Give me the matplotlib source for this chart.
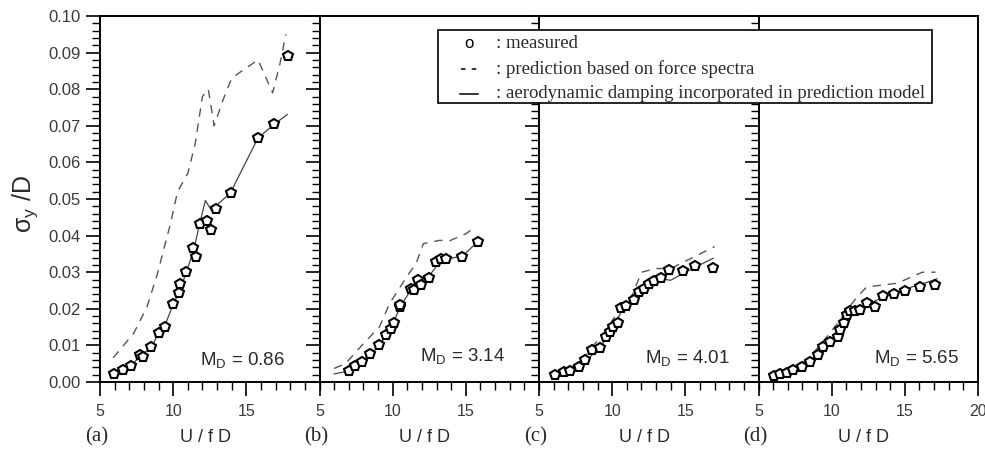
import matplotlib
matplotlib.use("Agg")
import matplotlib.pyplot as plt
from matplotlib.ticker import MultipleLocator, FixedLocator
from matplotlib.lines import Line2D
from matplotlib.patches import Rectangle

# ---- data: reduced velocity U/fD vs. normalised rms response sigma_y/D ----
panel_tags = ["(a)", "(b)", "(c)", "(d)"]
mass_damping = ["0.86", "3.14", "4.01", "5.65"]

# (a) M_D = 0.86
meas_a_x = [5.98, 6.6, 7.13, 7.75, 7.93, 8.48, 9.0, 9.42, 9.99, 10.38, 10.5, 10.91,
            11.37, 11.53, 11.83, 12.33, 12.6, 12.9, 13.93, 15.83, 16.86, 17.87]
meas_a_y = [0.0022, 0.0034, 0.0044, 0.0074, 0.0069, 0.0095, 0.0133, 0.0151, 0.0212,
            0.0244, 0.0269, 0.0301, 0.0367, 0.0342, 0.0431, 0.0440, 0.0414, 0.0474,
            0.0516, 0.0667, 0.0704, 0.0892]
force_a_x = [5.9, 7.3, 8.2, 8.9, 9.8, 10.3, 11.0, 11.5, 12.0, 12.4, 12.8, 13.4, 14.0,
             14.7, 15.8, 16.8, 17.3, 17.7]
force_a_y = [0.0066, 0.0133, 0.0204, 0.0292, 0.0430, 0.0520, 0.0570, 0.0650, 0.0780,
             0.0800, 0.0700, 0.0770, 0.0830, 0.0850, 0.0880, 0.0790, 0.0870, 0.0950]
damp_a_x = [6.0, 6.6, 7.1, 7.8, 8.5, 9.0, 9.4, 10.0, 10.4, 10.9, 11.4, 11.8, 12.2,
            12.6, 13.9, 15.8, 16.9, 17.8]
damp_a_y = [0.0022, 0.0034, 0.0044, 0.0072, 0.0095, 0.0133, 0.0151, 0.0212, 0.0244,
            0.0300, 0.0360, 0.0430, 0.0496, 0.0470, 0.0516, 0.0667, 0.0704, 0.0731]

# (b) M_D = 3.14
meas_b_x = [7.05, 7.43, 7.88, 8.45, 9.05, 9.53, 9.91, 10.09, 10.47, 10.47, 11.26,
            11.49, 11.71, 11.94, 12.5, 12.95, 13.29, 13.63, 14.75, 15.81]
meas_b_y = [0.0031, 0.0044, 0.0055, 0.0076, 0.0101, 0.0128, 0.0146, 0.0160, 0.0205,
            0.0210, 0.0255, 0.0251, 0.0280, 0.0265, 0.0283, 0.0328, 0.0335, 0.0337,
            0.0342, 0.0383]
force_b_x = [6.0, 6.8, 7.8, 9.1, 9.8, 10.3, 11.0, 11.6, 12.1, 13.2, 13.9, 15.0, 15.7]
force_b_y = [0.0037, 0.0051, 0.0096, 0.0151, 0.0215, 0.0246, 0.0290, 0.0324, 0.0378,
             0.0387, 0.0386, 0.0405, 0.0425]
damp_b_x = [6.0, 7.0, 7.9, 8.5, 9.1, 9.9, 10.5, 11.3, 11.9, 12.5, 13.3, 14.0, 14.8, 15.8]
damp_b_y = [0.0022, 0.0030, 0.0055, 0.0076, 0.0101, 0.0146, 0.0205, 0.0255, 0.0270,
            0.0290, 0.0333, 0.0338, 0.0345, 0.0383]

# (c) M_D = 4.01
meas_c_x = [6.12, 6.68, 7.09, 7.7, 8.15, 8.6, 9.16, 9.61, 9.83, 10.05, 10.39, 10.62,
            10.96, 11.52, 11.85, 12.19, 12.53, 12.86, 13.31, 13.87, 14.82, 15.67, 16.9]
meas_c_y = [0.0019, 0.0028, 0.0031, 0.0042, 0.0060, 0.0087, 0.0092, 0.0124, 0.0137,
            0.0151, 0.0160, 0.0201, 0.0207, 0.0224, 0.0246, 0.0253, 0.0269, 0.0276,
            0.0285, 0.0307, 0.0304, 0.0316, 0.0312]
force_c_x = [6.1, 7.0, 8.0, 8.6, 9.5, 10.2, 10.8, 11.4, 12.0, 13.0, 14.0, 15.0, 16.0, 17.0]
force_c_y = [0.0025, 0.0035, 0.0060, 0.0095, 0.0135, 0.0180, 0.0210, 0.0240, 0.0300,
             0.0310, 0.0310, 0.0330, 0.0350, 0.0370]
damp_c_x = [6.1, 7.1, 8.2, 9.2, 10.0, 10.6, 11.5, 12.5, 13.3, 14.0, 15.0, 16.0, 16.9]
damp_c_y = [0.0019, 0.0030, 0.0058, 0.0095, 0.0145, 0.0190, 0.0222, 0.0262, 0.0282,
            0.0278, 0.0300, 0.0320, 0.0338]

# (d) M_D = 5.65
meas_d_x = [6.03, 6.48, 6.94, 7.39, 7.97, 8.53, 9.1, 9.44, 9.9, 10.4, 10.54, 10.81,
            11.04, 11.27, 11.61, 11.95, 12.41, 12.98, 13.54, 14.23, 15.03, 16.05, 17.08]
meas_d_y = [0.0016, 0.0022, 0.0025, 0.0033, 0.0042, 0.0055, 0.0074, 0.0096, 0.0110,
            0.0124, 0.0142, 0.0162, 0.0183, 0.0194, 0.0194, 0.0198, 0.0216, 0.0204,
            0.0235, 0.0240, 0.0249, 0.0260, 0.0266]
force_d_x = [6.0, 7.5, 8.5, 9.5, 10.4, 11.2, 11.8, 12.4, 13.5, 14.5, 15.5, 16.2, 17.1]
force_d_y = [0.0022, 0.0038, 0.0068, 0.0115, 0.0160, 0.0205, 0.0235, 0.0260, 0.0265,
             0.0270, 0.0288, 0.0300, 0.0300]
damp_d_x = [6.0, 7.4, 8.5, 9.4, 10.4, 11.0, 11.6, 12.4, 13.5, 14.5, 15.5, 16.5, 17.2]
damp_d_y = [0.0016, 0.0030, 0.0055, 0.0090, 0.0135, 0.0180, 0.0195, 0.0210, 0.0232,
            0.0245, 0.0260, 0.0272, 0.0282]

measured = [(meas_a_x, meas_a_y), (meas_b_x, meas_b_y),
            (meas_c_x, meas_c_y), (meas_d_x, meas_d_y)]
force_pred = [(force_a_x, force_a_y), (force_b_x, force_b_y),
              (force_c_x, force_c_y), (force_d_x, force_d_y)]
damp_pred = [(damp_a_x, damp_a_y), (damp_b_x, damp_b_y),
             (damp_c_x, damp_c_y), (damp_d_x, damp_d_y)]
md_label_x = [11.8, 11.9, 12.25, 12.9]
md_label_y = [0.0045, 0.0055, 0.0049, 0.0049]

legend_labels = [": measured",
                 ": prediction based on force spectra",
                 ": aerodynamic damping incorporated in prediction model"]

# ---- figure ----
W, H = 985, 453
fig = plt.figure(figsize=(W / 100, H / 100), dpi=100)
sans = "Liberation Sans"
serif = "Liberation Serif"
tick_col = "#3a3a3a"
text_col = "#2a2a2a"

left_px, right_px, top_px, bot_px = 100, 978, 16, 382
pw = (right_px - left_px) / 4

axes = []
for i in range(4):
    ax = fig.add_axes([(left_px + i * pw) / W, 1 - bot_px / H, pw / W,
                       (bot_px - top_px) / H])
    axes.append(ax)
    ax.set_xlim(5, 20)
    ax.set_ylim(0, 0.10)
    ax.patch.set_alpha(0)

    mx, my = force_pred[i]
    ax.plot(mx, my, ls=(0, (6, 5)), color="#555555", lw=1.0)
    dx, dy = damp_pred[i]
    ax.plot(dx, dy, ls="-", color="#444444", lw=0.9)
    sx, sy = measured[i]
    ax.plot(sx, sy, ls="none", marker="p", ms=7.5, mfc="white", mec="black",
            mew=1.5)

    # axes frame
    for s in ("left", "top", "bottom"):
        ax.spines[s].set_linewidth(1.4)
    ax.spines["right"].set_visible(i == 3)
    ax.spines["right"].set_linewidth(1.4)

    ax.yaxis.set_major_locator(MultipleLocator(0.01))
    ax.yaxis.set_minor_locator(MultipleLocator(0.002))
    xt = [5, 10, 15, 20] if i == 3 else [5, 10, 15]
    ax.xaxis.set_major_locator(FixedLocator(xt))
    ax.xaxis.set_minor_locator(MultipleLocator(1))
    ax.tick_params(which="major", direction="out", length=10, width=1.2,
                   colors="black", labelcolor=tick_col)
    ax.tick_params(which="minor", direction="out", length=6, width=1.0)
    ax.tick_params(axis="x", pad=6, labelsize=11.5)
    ax.tick_params(axis="y", pad=4, labelsize=12)
    ax.tick_params(right=False, top=False)
    for lab in ax.get_xticklabels() + ax.get_yticklabels():
        lab.set_fontfamily(sans)
    if i == 0:
        ax.yaxis.set_major_formatter(plt.FormatStrFormatter("%.2f"))
    else:
        ax.tick_params(axis="y", labelleft=False)

    ax.text(md_label_x[i], md_label_y[i], r"M$_\mathregular{D}$ = " + mass_damping[i],
            family=sans, fontsize=13.5, color=text_col, va="baseline", ha="left")

    # panel tag and axis title under each panel
    x0 = (left_px + i * pw) / W
    fig.text(x0 - 3 / W, 1 - 437 / H, panel_tags[i], family=serif, fontsize=15,
             ha="center", va="center", color=text_col)
    fig.text(x0 + 0.48 * pw / W, 1 - 437 / H, "U / f D", family=sans, fontsize=13,
             ha="center", va="center", color=text_col)

fig.text(25 / W, 1 - 204 / H, r"$\mathregular{\sigma_y}$ /D", family=sans,
         fontsize=18, rotation=90, ha="center", va="center", color=text_col)

# ---- legend box ----
bx0, bx1, by0, by1 = 438, 932, 30, 103
fig.patches.append(Rectangle((bx0 / W, 1 - by1 / H), (bx1 - bx0) / W,
                             (by1 - by0) / H, transform=fig.transFigure,
                             facecolor="white", edgecolor="black", lw=1.2,
                             zorder=5))
rows_y = [43, 69, 94]
sym_x = 469
fig.text(sym_x / W, 1 - rows_y[0] / H, "o", family=sans, fontsize=12,
         ha="center", va="center", zorder=6)
fig.lines.append(Line2D([(sym_x - 8) / W, (sym_x + 8) / W],
                        [1 - rows_y[1] / H] * 2, transform=fig.transFigure,
                        color="black", lw=1.1, ls=(0, (3, 4)), zorder=6))
fig.lines.append(Line2D([(sym_x - 9) / W, (sym_x + 9) / W],
                        [1 - rows_y[2] / H] * 2, transform=fig.transFigure,
                        color="black", lw=1.1, zorder=6))
for ry, lab in zip(rows_y, legend_labels):
    fig.text(496 / W, 1 - ry / H, lab, family=serif, fontsize=13.5,
             ha="left", va="center", color=text_col, zorder=6)

fig.savefig("out.png", dpi=100)
